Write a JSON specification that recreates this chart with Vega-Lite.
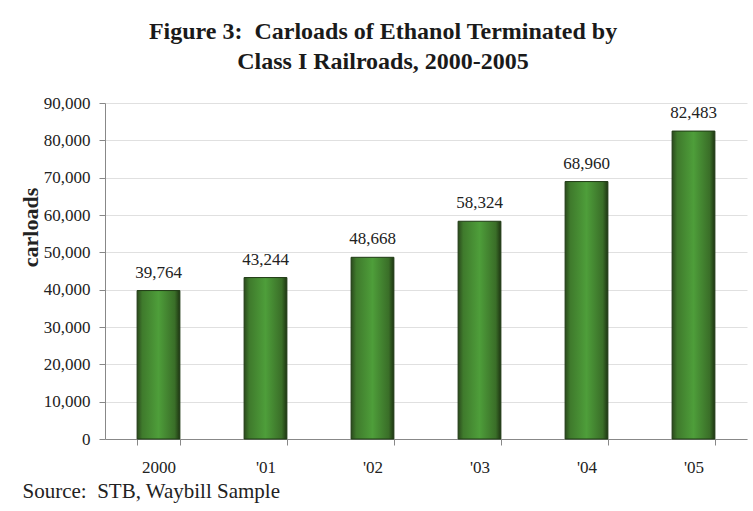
{
  "$schema": "https://vega.github.io/schema/vega-lite/v6.json",
  "width": 642,
  "height": 336,
  "autosize": {"type": "none"},
  "padding": {"left": 105, "top": 103, "right": 6, "bottom": 72},
  "background": "white",
  "title": {
    "text": ["Figure 3:\u00a0 Carloads of Ethanol Terminated by", "Class I Railroads, 2000-2005"],
    "font": "Liberation Serif",
    "fontSize": 24,
    "fontWeight": "bold",
    "color": "#1a1a1a",
    "lineHeight": 30,
    "anchor": "middle",
    "frame": "bounds",
    "offset": 20
  },
  "data": {
    "values": [
      {"year": "2000", "carloads": 39764},
      {"year": "'01", "carloads": 43244},
      {"year": "'02", "carloads": 48668},
      {"year": "'03", "carloads": 58324},
      {"year": "'04", "carloads": 68960},
      {"year": "'05", "carloads": 82483}
    ]
  },
  "config": {
    "view": {"stroke": null},
    "axis": {
      "labelFont": "Liberation Serif",
      "titleFont": "Liberation Serif",
      "labelColor": "#222",
      "titleColor": "#222",
      "domainColor": "#888",
      "tickColor": "#888"
    }
  },
  "encoding": {
    "x": {
      "field": "year",
      "type": "ordinal",
      "sort": null,
      "scale": {"paddingInner": 0.6, "paddingOuter": 0.3},
      "axis": {
        "labelAngle": 0,
        "labelFontSize": 17,
        "labelPadding": 14,
        "tickBand": "extent",
        "tickSize": 6,
        "title": "Source:\u00a0 STB, Waybill Sample",
        "titleFontSize": 21,
        "titleFontWeight": "normal",
        "titleAnchor": "start",
        "titleAlign": "left",
        "titleBaseline": "alphabetic",
        "titleX": -83,
        "titleY": 58
      }
    },
    "y": {
      "field": "carloads",
      "type": "quantitative",
      "scale": {"domain": [0, 90000]},
      "axis": {
        "values": [0, 10000, 20000, 30000, 40000, 50000, 60000, 70000, 80000, 90000],
        "format": ",d",
        "labelFontSize": 17,
        "labelPadding": 9,
        "tickSize": 6,
        "gridColor": "#e0e0e0",
        "title": "carloads",
        "titleFontSize": 22,
        "titleFontWeight": "bold",
        "titleAlign": "center",
        "titleBaseline": "middle",
        "titleAngle": -90,
        "titleX": -75,
        "titleY": 124
      }
    }
  },
  "layer": [
    {
      "mark": {
        "type": "bar",
        "stroke": "#1f3a14",
        "strokeWidth": 1,
        "color": {
          "gradient": "linear",
          "x1": 0, "y1": 0, "x2": 1, "y2": 0,
          "stops": [
            {"offset": 0, "color": "#2a4a1c"},
            {"offset": 0.12, "color": "#3f7a2c"},
            {"offset": 0.5, "color": "#4e9e3a"},
            {"offset": 0.88, "color": "#3a6e28"},
            {"offset": 1, "color": "#1e3512"}
          ]
        }
      }
    },
    {
      "mark": {
        "type": "text",
        "baseline": "bottom",
        "dy": -9,
        "font": "Liberation Serif",
        "fontSize": 17,
        "color": "#222"
      },
      "encoding": {
        "text": {"field": "carloads", "type": "quantitative", "format": ",d"}
      }
    }
  ]
}
